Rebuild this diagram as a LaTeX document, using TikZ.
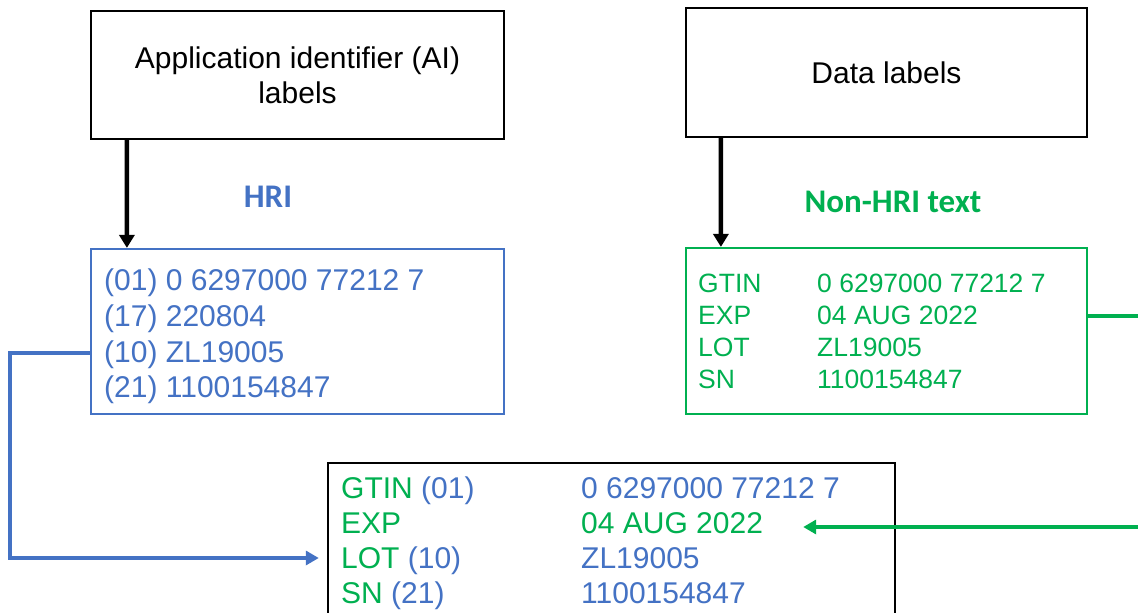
\documentclass[tikz,border=0pt]{standalone}
\usepackage{fontspec}
\setmainfont{Liberation Sans}
\newfontfamily\calibri{Carlito}
\usetikzlibrary{arrows.meta}
\definecolor{gsblue}{HTML}{4472C4}
\definecolor{gsgreen}{HTML}{00B050}
\tikzset{
  box/.style={draw=black, line width=2.4pt, minimum width=#1, inner sep=0pt, align=center},
  hdr/.style={font=\fontsize{30}{35}\selectfont},
  big/.style={anchor=base west, inner sep=0pt, font=\fontsize{30}{36}\selectfont},
  small/.style={anchor=base west, inner sep=0pt, font=\fontsize{26.5}{31}\selectfont, text=gsgreen},
  tag/.style={anchor=base, inner sep=0pt, font=\calibri\bfseries\fontsize{33}{38}\selectfont},
  blkarr/.style={line width=4.4pt, -{Triangle[width=15pt,length=13pt]}},
  bluearr/.style={draw=gsblue, line width=4pt, -{Triangle[width=14pt,length=13pt]}},
  greenarr/.style={draw=gsgreen, line width=4pt, -{Triangle[width=14pt,length=13pt]}},
}
\begin{document}
\begin{tikzpicture}[x=1pt,y=-1pt]
\useasboundingbox (0,0) rectangle (1138,613);
\clip (0,0) rectangle (1138,613);
\fill[white] (0,0) rectangle (1138,613);

% top boxes
\node[box=413pt, minimum height=128pt, hdr] (ai) at (297.5,75) {Application identifier (AI)\\labels};
\node[box=401pt, minimum height=129pt, hdr] (dl) at (886.5,72.5) {Data labels};

% middle boxes
\node[draw=gsblue, line width=2.2pt, minimum width=413pt, minimum height=165pt, inner sep=0pt] (hri) at (297.5,331.5) {};
\node[draw=gsgreen, line width=2.2pt, minimum width=401pt, minimum height=166pt, inner sep=0pt] (nh) at (886.5,331) {};

% bottom box
\node[draw=black, line width=2.4pt, minimum width=567pt, minimum height=177pt, inner sep=0pt] (cb) at (611.5,551.5) {};

% tags
\node[tag, text=gsblue] (hritag) at (268,207) {HRI};
\node[tag, text=gsgreen] (nhtag) at (893,212) {Non-HRI text};

% HRI text
\begin{scope}[every node/.style={big, text=gsblue}]
\node (h1) at (104,290) {(01) 0 6297000 77212 7};
\node (h2) at (104,326) {(17) 220804};
\node (h3) at (104,362) {(10) ZL19005};
\node (h4) at (104,397) {(21) 1100154847};
\end{scope}

% non-HRI text
\node[small] (n1a) at (698,292) {GTIN};
\node[small] (n2a) at (698,324) {EXP};
\node[small] (n3a) at (698,356) {LOT};
\node[small] (n4a) at (698,388) {SN};
\node[small] (n1b) at (817,292) {0 6297000 77212 7};
\node[small] (n2b) at (817,324) {04 AUG 2022};
\node[small] (n3b) at (817,356) {ZL19005};
\node[small] (n4b) at (817,388) {1100154847};

% combined text
\node[big] (c1a) at (341,498) {\textcolor{gsgreen}{GTIN} \textcolor{gsblue}{(01)}};
\node[big, text=gsgreen] (c2a) at (341,533) {EXP};
\node[big] (c3a) at (341,568) {\textcolor{gsgreen}{LOT} \textcolor{gsblue}{(10)}};
\node[big] (c4a) at (341,603) {\textcolor{gsgreen}{SN} \textcolor{gsblue}{(21)}};
\node[big, text=gsblue] (c1b) at (581,498) {0 6297000 77212 7};
\node[big, text=gsgreen] (c2b) at (581,533) {04 AUG 2022};
\node[big, text=gsblue] (c3b) at (581,568) {ZL19005};
\node[big, text=gsblue] (c4b) at (581,603) {1100154847};

% connectors
\draw[blkarr] ([xshift=37pt]ai.south west) -- ([xshift=37pt]hri.north west);
\draw[blkarr] ([xshift=36pt]dl.south west) -- ([xshift=36pt]nh.north west);

\coordinate (bl1) at (10,353);
\coordinate (bl2) at (10,558);
\draw[bluearr, shorten >=8pt] ([yshift=-21.5pt]hri.west) -- (bl1) -- (bl2) -- ([yshift=-6.5pt]cb.west);

\coordinate (gout) at (1140,316);
\draw[draw=gsgreen, line width=4pt] ([yshift=15pt]nh.east) -- (gout);
\coordinate (gin) at (1140,527);
\draw[greenarr, shorten >=40pt] (gin) -- (c2b.east |- gin);
\end{tikzpicture}
\end{document}
